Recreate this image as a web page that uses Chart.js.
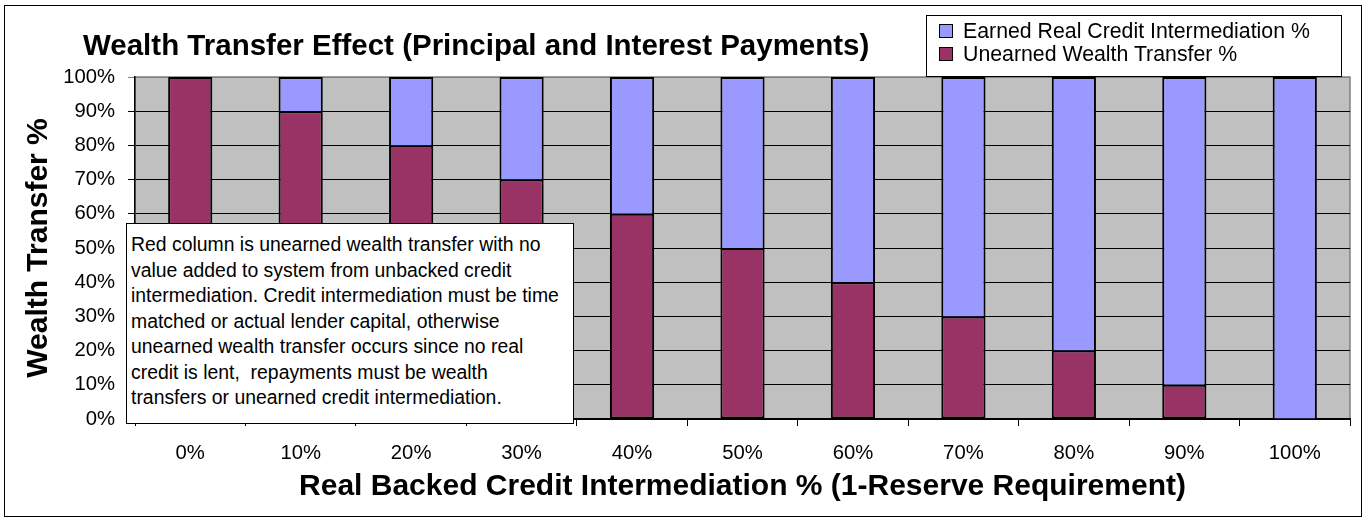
<!DOCTYPE html>
<html>
<head>
<meta charset="utf-8">
<script src="https://cdn.jsdelivr.net/npm/chart.js@4.4.1/dist/chart.umd.min.js"></script>
<style>
  html, body { margin: 0; padding: 0; background: #fff; }
  body { width: 1364px; height: 518px; position: relative; overflow: hidden;
         font-family: "Liberation Sans", Arial, sans-serif; color: #000; }
  #chart { position: absolute; left: 0; top: 0; }
  #frame { position: absolute; left: 4px; top: 5px; width: 1356px; height: 510px;
           border: 1px solid #000; pointer-events: none; }
  #title { position: absolute; left: 83px; top: 30px; font-weight: bold; font-size: 29.5px;
           line-height: 29.5px; white-space: nowrap; }
  #legend { position: absolute; left: 926px; top: 15px; width: 414px; height: 56px;
            border: 1px solid #000; background: #fff; padding-top: 4px; box-sizing: content-box; }
  #legend .row { position: relative; height: 23px; line-height: 23px; font-size: 21.3px; padding-left: 36px; white-space: nowrap; }
  #legend .sw { position: absolute; left: 12px; top: 4px; width: 12px; height: 12px; border: 1px solid #000; }
  #note { position: absolute; left: 126px; top: 223px; width: 442px; height: 191px;
          border: 1.5px solid #000; background: #fff; font-size: 19.4px; line-height: 25.5px;
          padding: 8px 0 0 4px; white-space: pre; box-sizing: content-box; }
</style>
</head>
<body>
<canvas id="chart" width="1364" height="518"></canvas>
<div id="frame"></div>
<div id="title">Wealth Transfer Effect (Principal and Interest Payments)</div>
<div id="legend"></div>
<div id="note"></div>
<script>
const categories = ['0%', '10%', '20%', '30%', '40%', '50%', '60%', '70%', '80%', '90%', '100%'];
const unearnedValues = [100, 90, 80, 70, 60, 50, 40, 30, 20, 10, 0];
const earnedValues = [0, 10, 20, 30, 40, 50, 60, 70, 80, 90, 100];
const unearnedLabel = 'Unearned Wealth Transfer %';
const earnedLabel = 'Earned Real Credit Intermediation %';
const xTitle = 'Real Backed Credit Intermediation % (1-Reserve Requirement)';
const yTitle = 'Wealth Transfer %';
const noteLines = [
  'Red column is unearned wealth transfer with no',
  'value added to system from unbacked credit',
  'intermediation. Credit intermediation must be time',
  'matched or actual lender capital, otherwise',
  'unearned wealth transfer occurs since no real',
  'credit is lent,  repayments must be wealth',
  'transfers or unearned credit intermediation.'
];

const FONT = '"Liberation Sans", Arial, sans-serif';

// grey plot area with a darker frame, like the spreadsheet original
const plotBackground = {
  id: 'plotBackground',
  beforeDraw(chart) {
    const { ctx, chartArea: a } = chart;
    ctx.save();
    ctx.fillStyle = '#C0C0C0';
    ctx.fillRect(a.left, a.top, a.right - a.left, a.bottom - a.top);
    ctx.strokeStyle = '#808080';
    ctx.lineWidth = 1.5;
    ctx.strokeRect(a.left, a.top, a.right - a.left, a.bottom - a.top);
    ctx.restore();
  }
};

const ctx = document.getElementById('chart').getContext('2d');
const chart = new Chart(ctx, {
  type: 'bar',
  data: {
    labels: categories,
    datasets: [{
      label: unearnedLabel,
      data: unearnedValues,
      backgroundColor: '#993366',
      borderColor: '#000',
      borderWidth: 2,
      borderSkipped: false,
      categoryPercentage: 1,
      barPercentage: 0.4
    }, {
      label: earnedLabel,
      data: earnedValues,
      backgroundColor: '#9999FF',
      borderColor: '#000',
      borderWidth: 2,
      borderSkipped: 'start',
      categoryPercentage: 1,
      barPercentage: 0.4
    }]
  },
  options: {
    responsive: false,
    animation: false,
    devicePixelRatio: 1,
    layout: { padding: { top: 77, right: 14, left: 0, bottom: 0 } },
    plugins: { legend: { display: false }, title: { display: false }, tooltip: { enabled: false } },
    scales: {
      x: {
        stacked: true,
        afterFit(scale) { scale.height = 99; },
        grid: { drawOnChartArea: false, drawTicks: true, tickLength: 7, color: '#000', offset: true },
        border: { display: true, color: '#000', width: 1.5 },
        ticks: { color: '#000', padding: 15, font: { family: FONT, size: 20.3 }, maxRotation: 0 },
        title: { display: true, text: xTitle, color: '#000', padding: { top: 0, bottom: 13 },
                 font: { family: FONT, size: 30, weight: 'bold' } }
      },
      y: {
        stacked: true,
        min: 0,
        max: 100,
        afterFit(scale) { scale.width = 135; },
        grid: {
          color: c => (c.tick && c.tick.value === 100 ? '#808080' : '#000'),
          lineWidth: 1, drawTicks: true, tickLength: 7
        },
        border: { display: true, color: '#000', width: 1.5 },
        ticks: { stepSize: 10, color: '#000', padding: 13, font: { family: FONT, size: 20.3 },
                 callback: v => v + '%' },
        title: { display: true, text: yTitle, color: '#000', padding: { top: 21, bottom: 0 },
                 font: { family: FONT, size: 30, weight: 'bold' } }
      }
    }
  },
  plugins: [plotBackground]
});

// legend box, built from the datasets (earned first, as in the original)
const legendBox = document.getElementById('legend');
chart.data.datasets.slice().reverse().forEach(ds => {
  const row = document.createElement('div');
  row.className = 'row';
  const sw = document.createElement('span');
  sw.className = 'sw';
  sw.style.background = ds.backgroundColor;
  row.appendChild(sw);
  row.appendChild(document.createTextNode(ds.label));
  legendBox.appendChild(row);
});

document.getElementById('note').textContent = noteLines.join('\n');
</script>
</body>
</html>
